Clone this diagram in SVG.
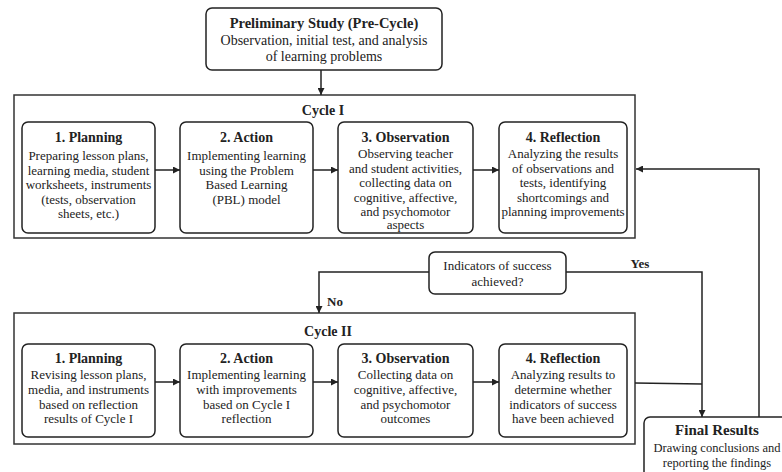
<svg xmlns="http://www.w3.org/2000/svg" width="782" height="472" viewBox="0 0 782 472">
<defs>
<style>
.box{fill:#fff;stroke:#222;stroke-width:1.5}
.frame{fill:#fff;stroke:#333;stroke-width:1.5}
.ln{fill:none;stroke:#222;stroke-width:1.5}
text{font-family:"Liberation Serif","Times New Roman",serif;fill:#222;text-anchor:middle}
.t{font-size:14px;font-weight:bold}
.b{font-size:13px}
</style>
<marker id="ah" viewBox="0 0 10 10" refX="10" refY="5" markerWidth="7" markerHeight="7" markerUnits="userSpaceOnUse" orient="auto"><path d="M0,0 L10,5 L0,10 z" fill="#222"/></marker>
</defs>
<rect width="782" height="472" fill="#fff"/>

<g id="frame1"><rect class="frame" x="14" y="95" width="621" height="143"/><text class="t" x="323" y="115">Cycle I</text></g>
<g id="frame2"><rect class="frame" x="14" y="313" width="621" height="131"/><text class="t" x="328" y="336">Cycle II</text></g>

<g id="precycle"><rect class="box" x="206" y="8" width="236" height="62" rx="6"/>
<text class="t" x="324" y="28" style="font-size:14.5px">Preliminary Study (Pre-Cycle)</text>
<text class="b" x="324" y="45" style="font-size:14px">Observation, initial test, and analysis</text>
<text class="b" x="324" y="61" style="font-size:14px">of learning problems</text></g>

<g id="c1-plan"><rect class="box" x="22" y="122" width="133" height="111" rx="6"/>
<text class="t" x="88.5" y="142">1. Planning</text>
<text class="b" x="88.5" y="160">Preparing lesson plans,</text>
<text class="b" x="88.5" y="174.5">learning media, student</text>
<text class="b" x="88.5" y="189">worksheets, instruments</text>
<text class="b" x="88.5" y="203.5">(tests, observation</text>
<text class="b" x="88.5" y="218">sheets, etc.)</text></g>

<g id="c1-action"><rect class="box" x="180" y="122" width="133" height="111" rx="6"/>
<text class="t" x="246.5" y="142">2. Action</text>
<text class="b" x="246.5" y="160">Implementing learning</text>
<text class="b" x="246.5" y="174.5">using the Problem</text>
<text class="b" x="246.5" y="189">Based Learning</text>
<text class="b" x="246.5" y="203.5">(PBL) model</text></g>

<g id="c1-obs"><rect class="box" x="338" y="122" width="135" height="111" rx="6"/>
<text class="t" x="405.5" y="142">3. Observation</text>
<text class="b" x="405.5" y="158">Observing teacher</text>
<text class="b" x="405.5" y="172.5">and student activities,</text>
<text class="b" x="405.5" y="187">collecting data on</text>
<text class="b" x="405.5" y="201.5">cognitive, affective,</text>
<text class="b" x="405.5" y="215.5">and psychomotor</text>
<text class="b" x="405.5" y="229">aspects</text></g>

<g id="c1-ref"><rect class="box" x="499" y="122" width="128" height="111" rx="6"/>
<text class="t" x="563" y="142">4. Reflection</text>
<text class="b" x="563" y="158">Analyzing the results</text>
<text class="b" x="563" y="172.5">of observations and</text>
<text class="b" x="563" y="187">tests, identifying</text>
<text class="b" x="563" y="201.5">shortcomings and</text>
<text class="b" x="563" y="215.5">planning improvements</text></g>

<g id="decision"><rect class="box" x="429" y="252" width="137" height="42" rx="6"/>
<text class="b" x="497.5" y="270">Indicators of success</text>
<text class="b" x="497.5" y="286">achieved?</text></g>

<g id="c2-plan"><rect class="box" x="22" y="344" width="133" height="93" rx="6"/>
<text class="t" x="88.5" y="363">1. Planning</text>
<text class="b" x="88.5" y="379">Revising lesson plans,</text>
<text class="b" x="88.5" y="394">media, and instruments</text>
<text class="b" x="88.5" y="408.5">based on reflection</text>
<text class="b" x="88.5" y="423">results of Cycle I</text></g>

<g id="c2-action"><rect class="box" x="180" y="344" width="133" height="93" rx="6"/>
<text class="t" x="246.5" y="363">2. Action</text>
<text class="b" x="246.5" y="379">Implementing learning</text>
<text class="b" x="246.5" y="394">with improvements</text>
<text class="b" x="246.5" y="408.5">based on Cycle I</text>
<text class="b" x="246.5" y="423">reflection</text></g>

<g id="c2-obs"><rect class="box" x="338" y="344" width="135" height="93" rx="6"/>
<text class="t" x="405.5" y="363">3. Observation</text>
<text class="b" x="405.5" y="379">Collecting data on</text>
<text class="b" x="405.5" y="394">cognitive, affective,</text>
<text class="b" x="405.5" y="408.5">and psychomotor</text>
<text class="b" x="405.5" y="423">outcomes</text></g>

<g id="c2-ref"><rect class="box" x="499" y="344" width="128" height="93" rx="6"/>
<text class="t" x="563" y="363">4. Reflection</text>
<text class="b" x="563" y="379">Analyzing results to</text>
<text class="b" x="563" y="394">determine whether</text>
<text class="b" x="563" y="408.5">indicators of success</text>
<text class="b" x="563" y="423">have been achieved</text></g>

<g id="final"><rect class="box" x="644" y="417" width="150" height="70" rx="6"/>
<text class="t" x="717" y="435" style="font-size:15px">Final Results</text>
<text class="b" x="717" y="452" style="font-size:12.5px">Drawing conclusions and</text>
<text class="b" x="717" y="467" style="font-size:12.5px">reporting the findings</text></g>

<g id="connectors">
<line class="ln" x1="321" y1="70" x2="321" y2="95" marker-end="url(#ah)"/>
<line class="ln" x1="155" y1="170" x2="180" y2="170" marker-end="url(#ah)"/>
<line class="ln" x1="313" y1="170" x2="338" y2="170" marker-end="url(#ah)"/>
<line class="ln" x1="473" y1="170" x2="499" y2="170" marker-end="url(#ah)"/>
<line class="ln" x1="155" y1="382" x2="180" y2="382" marker-end="url(#ah)"/>
<line class="ln" x1="313" y1="382" x2="338" y2="382" marker-end="url(#ah)"/>
<line class="ln" x1="473" y1="382" x2="499" y2="382" marker-end="url(#ah)"/>
<polyline class="ln" points="429,272 319,272 319,313" marker-end="url(#ah)"/>
<polyline class="ln" points="566,272 702,272 702,417" marker-end="url(#ah)"/>
<polyline class="ln" points="635,383 702,384"/>
<polyline class="ln" points="759,417 759,169 636,169" marker-end="url(#ah)"/>
<text class="t" x="335" y="306" style="font-size:13px">No</text>
<text class="t" x="640" y="268" style="font-size:13px">Yes</text>
</g>
</svg>
